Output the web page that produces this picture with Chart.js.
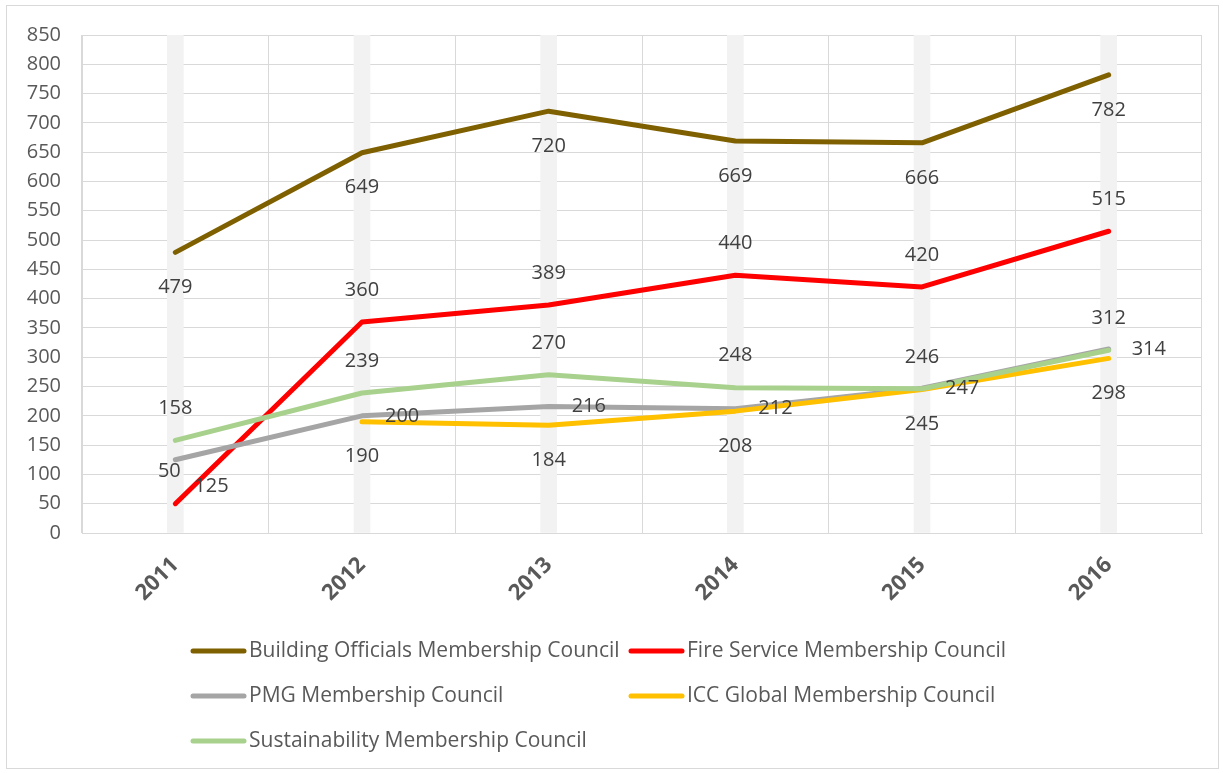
<!DOCTYPE html>
<html>
<head>
<meta charset="utf-8">
<script src="https://cdn.jsdelivr.net/npm/chart.js@4"></script>
<style>
  html, body { margin: 0; padding: 0; background: #fff; }
  #wrap { position: relative; width: 1223px; height: 773px; }
</style>
</head>
<body>
<div id="wrap"><canvas id="chart" width="1223" height="773"></canvas></div>
<script>
const years = ["2011", "2012", "2013", "2014", "2015", "2016"];
const buildingOfficials = [479, 649, 720, 669, 666, 782];
const fireService = [50, 360, 389, 440, 420, 515];
const pmg = [125, 200, 216, 212, 247, 314];
const iccGlobal = [null, 190, 184, 208, 245, 298];
const sustainability = [158, 239, 270, 248, 246, 312];
const yMax = 850;
const yStep = 50;

const FONT = "'Open Sans', Lato, sans-serif";

const series = [
  { label: "Building Officials Membership Council", data: buildingOfficials, color: "#7f6000", pos: "below" },
  { label: "Fire Service Membership Council", data: fireService, color: "#ff0000", pos: "above" },
  { label: "PMG Membership Council", data: pmg, color: "#a5a5a5", pos: "right" },
  { label: "ICC Global Membership Council", data: iccGlobal, color: "#ffc000", pos: "below" },
  { label: "Sustainability Membership Council", data: sustainability, color: "#a9d18e", pos: "above" },
];

// a couple of labels were nudged by hand in the original
const labelNudge = { "2:0": { dx: -4, dy: 27 }, "1:0": { dx: -6, dy: 0 } };

const frame = {
  id: "frame",
  beforeDraw(chart) {
    const ctx = chart.ctx;
    ctx.save();
    ctx.fillStyle = "#fff";
    ctx.fillRect(0, 0, chart.width, chart.height);
    ctx.strokeStyle = "#d9d9d9";
    ctx.lineWidth = 1;
    ctx.strokeRect(6.5, 5.5, 1212, 763);
    ctx.restore();
  },
};

const valueLabels = {
  id: "valueLabels",
  afterDatasetsDraw(chart) {
    const ctx = chart.ctx;
    ctx.save();
    ctx.font = "20px " + FONT;
    ctx.fillStyle = "#404040";
    chart.data.datasets.forEach((ds, di) => {
      if (!ds.labelPos) return;
      const meta = chart.getDatasetMeta(di);
      meta.data.forEach((pt, i) => {
        const v = ds.data[i];
        if (v == null) return;
        let x = pt.x, y = pt.y;
        ctx.textBaseline = "middle";
        if (ds.labelPos === "above") { ctx.textAlign = "center"; y -= 32; }
        else if (ds.labelPos === "below") { ctx.textAlign = "center"; y += 35; }
        else { ctx.textAlign = "left"; x += 23; }
        const n = labelNudge[di + ":" + i];
        if (n) { x += n.dx; y += n.dy; }
        ctx.fillText(String(v), x, y);
      });
    });
    ctx.restore();
  },
};

const legendBox = {
  id: "legendBox",
  afterDraw(chart) {
    const ctx = chart.ctx;
    const cols = [193, 631];
    const rows = [651, 696, 741];
    ctx.save();
    ctx.font = "21px " + FONT;
    ctx.fillStyle = "#595959";
    ctx.textAlign = "left";
    ctx.textBaseline = "middle";
    series.forEach((s, i) => {
      const x = cols[i % 2];
      const y = rows[Math.floor(i / 2)];
      ctx.strokeStyle = s.color;
      ctx.lineWidth = 5;
      ctx.lineCap = "round";
      ctx.beginPath();
      ctx.moveTo(x, y);
      ctx.lineTo(x + 51, y);
      ctx.stroke();
      ctx.fillText(s.label, x + 56, y);
    });
    ctx.restore();
  },
};

const datasets = series.map((s, i) => ({
  type: "line",
  label: s.label,
  data: s.data,
  borderColor: s.color,
  backgroundColor: s.color,
  borderWidth: 5,
  borderCapStyle: "round",
  borderJoinStyle: "round",
  pointRadius: 0,
  pointHoverRadius: 0,
  tension: 0,
  spanGaps: false,
  order: series.length - i,
  labelPos: s.pos,
}));

datasets.push({
  type: "bar",
  label: "_bands",
  data: years.map(() => yMax),
  backgroundColor: "#f2f2f2",
  borderWidth: 0,
  barThickness: 16,
  order: 20,
});

new Chart(document.getElementById("chart"), {
  data: { labels: years, datasets },
  options: {
    responsive: false,
    animation: false,
    events: [],
    layout: { padding: { left: 20, top: 35, right: 21, bottom: 0 } },
    plugins: {
      legend: { display: false },
      tooltip: { enabled: false },
    },
    scales: {
      x: {
        type: "category",
        offset: true,
        grid: { offset: true, color: "#d9d9d9", lineWidth: 1, drawTicks: false },
        border: { color: "#d9d9d9" },
        ticks: {
          minRotation: 45,
          maxRotation: 45,
          padding: 19,
          color: "#595959",
          font: { family: FONT, size: 22, weight: "bold" },
        },
        afterFit(scale) { scale.height = 240; },
      },
      y: {
        min: 0,
        max: yMax,
        grid: { color: "#d9d9d9", lineWidth: 1, drawTicks: false },
        border: { color: "#d9d9d9" },
        ticks: {
          stepSize: yStep,
          padding: 21,
          color: "#595959",
          font: { family: FONT, size: 20 },
        },
        afterFit(scale) { scale.width = 62; },
      },
    },
  },
  plugins: [frame, valueLabels, legendBox],
});
</script>
</body>
</html>
